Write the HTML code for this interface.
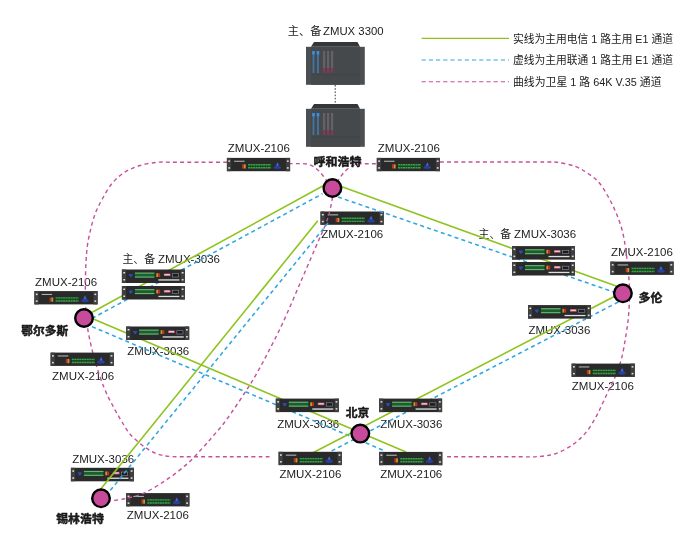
<!DOCTYPE html>
<html lang="zh"><head><meta charset="utf-8"><title>ZMUX</title>
<style>
html,body{margin:0;padding:0;background:#fff;}
body{width:700px;height:539px;overflow:hidden;}
svg{display:block;will-change:transform;}
text{font-family:"Liberation Sans","Noto Sans CJK SC",sans-serif;fill:#1c1c1c;}
</style></head><body>
<svg width="700" height="539" viewBox="0 0 700 539">
<defs><filter id="sb" x="-5%" y="-20%" width="110%" height="140%"><feGaussianBlur stdDeviation="0.35"/></filter></defs>
<rect width="700" height="539" fill="#fff"/>
<g id="labels">
<text xml:space="preserve"><tspan x="287.8" y="35.3" font-size="11.2">主、备</tspan><tspan x="323.0" y="35.1" font-size="11.8" textLength="60.6" lengthAdjust="spacingAndGlyphs">ZMUX 3300</tspan></text>
<text x="227.8" y="152.4" font-size="11.8" textLength="62" lengthAdjust="spacingAndGlyphs" xml:space="preserve">ZMUX-2106</text>
<text x="377.8" y="152.4" font-size="11.8" textLength="62" lengthAdjust="spacingAndGlyphs" xml:space="preserve">ZMUX-2106</text>
<text x="321.2" y="238" font-size="11.8" textLength="62" lengthAdjust="spacingAndGlyphs" xml:space="preserve">ZMUX-2106</text>
<text x="35.1" y="285.7" font-size="11.8" textLength="62" lengthAdjust="spacingAndGlyphs" xml:space="preserve">ZMUX-2106</text>
<text x="52.1" y="379.5" font-size="11.8" textLength="62" lengthAdjust="spacingAndGlyphs" xml:space="preserve">ZMUX-2106</text>
<text x="610.9" y="256.4" font-size="11.8" textLength="62" lengthAdjust="spacingAndGlyphs" xml:space="preserve">ZMUX-2106</text>
<text x="571.8" y="389.6" font-size="11.8" textLength="62" lengthAdjust="spacingAndGlyphs" xml:space="preserve">ZMUX-2106</text>
<text x="279.4" y="477.8" font-size="11.8" textLength="62" lengthAdjust="spacingAndGlyphs" xml:space="preserve">ZMUX-2106</text>
<text x="380.2" y="477.8" font-size="11.8" textLength="62" lengthAdjust="spacingAndGlyphs" xml:space="preserve">ZMUX-2106</text>
<text x="126.8" y="519" font-size="11.8" textLength="62" lengthAdjust="spacingAndGlyphs" xml:space="preserve">ZMUX-2106</text>
<text xml:space="preserve"><tspan x="122.4" y="263.1" font-size="10.9">主、备</tspan><tspan x="158.0" y="263.4" font-size="11.8" textLength="62" lengthAdjust="spacingAndGlyphs">ZMUX-3036</tspan></text>
<text xml:space="preserve"><tspan x="478.5" y="238.0" font-size="10.9">主、备</tspan><tspan x="514.1" y="238.3" font-size="11.8" textLength="62" lengthAdjust="spacingAndGlyphs">ZMUX-3036</tspan></text>
<text x="127.2" y="355" font-size="11.8" textLength="62" lengthAdjust="spacingAndGlyphs" xml:space="preserve">ZMUX-3036</text>
<text x="528.4" y="334.3" font-size="11.8" textLength="62" lengthAdjust="spacingAndGlyphs" xml:space="preserve">ZMUX-3036</text>
<text x="277.2" y="427.9" font-size="11.8" textLength="62" lengthAdjust="spacingAndGlyphs" xml:space="preserve">ZMUX-3036</text>
<text x="380.3" y="427.9" font-size="11.8" textLength="62" lengthAdjust="spacingAndGlyphs" xml:space="preserve">ZMUX-3036</text>
<text x="72.2" y="462.6" font-size="11.8" textLength="62" lengthAdjust="spacingAndGlyphs" xml:space="preserve">ZMUX-3036</text>
<text x="513" y="42.6" font-size="10.8" textLength="160" lengthAdjust="spacingAndGlyphs" xml:space="preserve">实线为主用电信 1 路主用 E1 通道</text>
<text x="513" y="64.3" font-size="10.8" textLength="160" lengthAdjust="spacingAndGlyphs" xml:space="preserve">虚线为主用联通 1 路主用 E1 通道</text>
<text x="513" y="86" font-size="10.8" textLength="148.5" lengthAdjust="spacingAndGlyphs" xml:space="preserve">曲线为卫星 1 路 64K V.35 通道</text>
</g>
<g id="devices-low">
<g transform="translate(320.5,211.5)"><rect x="0" y="0" width="63.2" height="13.3" fill="#2a2a2a"/><rect x="0" y="0" width="4.2" height="13.3" fill="#3f3f3f"/><rect x="59.0" y="0" width="4.2" height="13.3" fill="#3f3f3f"/><g filter="url(#sb)"><rect x="1.4" y="2.5" width="1.8" height="1.5" fill="#e0e0e0"/><rect x="1.4" y="9.3" width="1.8" height="1.5" fill="#e0e0e0"/><rect x="60.0" y="2.5" width="1.8" height="1.5" fill="#e0e0e0"/><rect x="60.0" y="9.3" width="1.8" height="1.5" fill="#e0e0e0"/><rect x="7.2" y="2.8" width="10.5" height="1.1" fill="#b0b0b0"/><rect x="15.2" y="6.4" width="1.8" height="4.2" fill="#cf2a20"/><rect x="17" y="6.4" width="1.8" height="4.2" fill="#b9a02a"/><rect x="21.2" y="6" width="23" height="4.6" fill="#1b4723"/><path d="M21.2 6.8 H44.2 M21.2 9.9 H44.2" stroke="#3f9f4e" stroke-width="1.4" stroke-dasharray="2 0.5" fill="none"/><path d="M46.6 10.2 Q46.6 8.6 48.6 8 L50.6 4 L52.4 8 Q54.4 8.6 54.4 10.2 Q50.5 12 46.6 10.2 Z" fill="#283f9e"/><path d="M49.3 7.6 L50.6 4.6 L51.8 7.6 Z" fill="#4a6fd0"/></g></g>
<g transform="translate(70.9,467.8)"><rect x="0" y="0" width="63" height="13.5" fill="#2a2a2a"/><rect x="0" y="0" width="4.2" height="13.5" fill="#3f3f3f"/><rect x="58.8" y="0" width="4.2" height="13.5" fill="#3f3f3f"/><g filter="url(#sb)"><rect x="1.4" y="2.5" width="1.8" height="1.5" fill="#e0e0e0"/><rect x="1.4" y="9.5" width="1.8" height="1.5" fill="#e0e0e0"/><rect x="59.8" y="2.5" width="1.8" height="1.5" fill="#e0e0e0"/><rect x="59.8" y="9.5" width="1.8" height="1.5" fill="#e0e0e0"/><path d="M6.8 4.4 L11 4.4 L10.2 6.6 L8.9 7.9 L7.6 6.6 Z" fill="#2a4cb6"/><rect x="13" y="3.1" width="19.5" height="5" fill="#1f5f2e"/><rect x="13" y="3.1" width="19.5" height="1.1" fill="#68b476"/><rect x="13" y="7" width="19.5" height="1.1" fill="#68b476"/><rect x="34.4" y="3.7" width="1.9" height="3.8" fill="#b9a02a"/><rect x="36.3" y="3.7" width="1.9" height="3.8" fill="#cf2a20"/><rect x="42" y="4.1" width="6.5" height="2.4" fill="#d9668c"/><rect x="42.8" y="4.7" width="5" height="1" fill="#f7dbe4"/><rect x="50.6" y="4.2" width="6.2" height="3.3" fill="#151a2c" stroke="#8f8f8f" stroke-width="0.6"/><rect x="36.5" y="9.8" width="21" height="1.3" fill="#e0e0e0"/></g></g>
<g transform="translate(126.2,493.1)"><rect x="0" y="0" width="63.2" height="13.3" fill="#2a2a2a"/><rect x="0" y="0" width="4.2" height="13.3" fill="#3f3f3f"/><rect x="59.0" y="0" width="4.2" height="13.3" fill="#3f3f3f"/><g filter="url(#sb)"><rect x="1.4" y="2.5" width="1.8" height="1.5" fill="#e0e0e0"/><rect x="1.4" y="9.3" width="1.8" height="1.5" fill="#e0e0e0"/><rect x="60.0" y="2.5" width="1.8" height="1.5" fill="#e0e0e0"/><rect x="60.0" y="9.3" width="1.8" height="1.5" fill="#e0e0e0"/><rect x="7.2" y="2.8" width="10.5" height="1.1" fill="#b0b0b0"/><rect x="15.2" y="6.4" width="1.8" height="4.2" fill="#cf2a20"/><rect x="17" y="6.4" width="1.8" height="4.2" fill="#b9a02a"/><rect x="21.2" y="6" width="23" height="4.6" fill="#1b4723"/><path d="M21.2 6.8 H44.2 M21.2 9.9 H44.2" stroke="#3f9f4e" stroke-width="1.4" stroke-dasharray="2 0.5" fill="none"/><path d="M46.6 10.2 Q46.6 8.6 48.6 8 L50.6 4 L52.4 8 Q54.4 8.6 54.4 10.2 Q50.5 12 46.6 10.2 Z" fill="#283f9e"/><path d="M49.3 7.6 L50.6 4.6 L51.8 7.6 Z" fill="#4a6fd0"/></g></g>
</g>
<g id="links">
<path d="M227.0 162.2 C222.5 162.2 209.5 162.2 200.0 162.2 C190.5 162.2 177.2 162.2 170.0 162.2 C162.8 162.2 162.0 161.8 157.0 162.3 C152.0 162.9 145.4 163.8 140.0 165.5 C134.6 167.2 129.2 169.3 124.5 172.3 C119.8 175.3 115.7 179.1 112.0 183.5 C108.3 187.9 105.0 194.1 102.3 199.0 C99.5 203.9 97.4 208.2 95.5 213.0 C93.6 217.8 92.3 222.7 91.0 228.0 C89.7 233.3 88.3 239.3 87.5 245.0 C86.7 250.7 86.3 255.8 86.0 262.0 C85.7 268.2 85.5 275.7 85.4 282.0 C85.3 288.3 85.2 294.0 85.4 300.0 C85.6 306.0 86.0 312.3 86.5 318.0 C87.0 323.7 87.2 326.8 88.6 334.0 C90.0 341.2 92.4 352.0 95.0 361.0 C97.6 370.0 101.1 380.3 104.2 388.0 C107.3 395.7 110.5 401.3 113.5 407.0 C116.5 412.7 119.1 417.3 122.0 422.0 C124.9 426.7 127.2 431.0 131.0 435.2 C134.8 439.4 140.5 444.1 145.0 447.3 C149.5 450.5 153.7 452.7 158.0 454.2 C162.3 455.7 165.7 456.1 171.0 456.5 C176.3 456.9 180.2 456.7 190.0 456.7 C199.8 456.7 216.8 456.7 230.0 456.7 C243.2 456.7 262.9 456.7 269.5 456.7" fill="none" stroke="#c6509a" stroke-width="1.4" stroke-dasharray="3.9 3.25"/>
<path d="M440.0 162.0 C450.0 162.0 482.5 162.0 500.0 162.0 C517.5 162.0 535.5 161.9 545.0 162.0 C554.5 162.1 552.0 161.6 557.0 162.3 C562.0 163.0 569.8 164.4 575.0 166.3 C580.2 168.2 583.8 170.6 588.0 173.5 C592.2 176.4 595.9 178.6 600.0 183.8 C604.1 189.1 608.8 197.3 612.5 205.0 C616.2 212.7 619.6 220.7 622.1 230.0 C624.6 239.3 626.0 251.8 627.2 261.0 C628.4 270.2 628.9 279.0 629.3 285.0 C629.7 291.0 629.6 292.0 629.5 297.0 C629.4 302.0 629.1 309.0 628.6 315.0 C628.1 321.0 627.4 325.8 626.3 332.9 C625.2 340.0 623.6 350.3 621.8 357.5 C620.0 364.7 617.6 370.7 615.5 376.0 C613.4 381.3 611.2 384.9 609.0 389.5 C606.8 394.1 604.8 398.8 602.5 403.5 C600.2 408.2 598.3 413.0 595.4 418.0 C592.5 423.0 589.1 428.8 585.1 433.4 C581.1 438.0 576.5 442.2 571.4 445.6 C566.3 449.0 560.0 452.2 554.3 454.0 C548.6 455.8 542.8 456.1 537.1 456.6 C531.4 457.1 526.2 456.8 520.0 456.8 C513.8 456.8 506.7 456.7 500.0 456.7 C493.3 456.7 489.2 456.7 480.0 456.7 C470.8 456.7 450.5 456.7 444.6 456.7" fill="none" stroke="#c6509a" stroke-width="1.4" stroke-dasharray="3.9 3.25"/>
<path d="M332.6 197.0 C332.1 199.7 330.6 208.1 329.3 212.9 C328.0 217.7 326.8 221.5 325.0 226.0 C323.2 230.5 322.7 231.0 318.8 240.0 C314.9 249.0 307.5 266.2 301.5 280.0 C295.5 293.8 288.6 310.4 283.0 322.5 C277.4 334.6 272.4 343.9 268.0 352.5 C263.6 361.1 260.3 367.1 256.5 373.8 C252.7 380.5 250.0 384.8 245.0 392.5 C240.0 400.2 231.5 412.9 226.3 420.0 C221.1 427.1 217.9 430.4 214.0 435.0 C210.1 439.6 207.5 442.7 203.0 447.5 C198.5 452.3 193.1 458.6 187.0 464.0 C180.9 469.4 173.6 475.0 166.5 479.8 C159.4 484.6 151.1 489.7 144.5 492.8 C137.9 495.9 132.7 496.8 127.0 498.2 C121.3 499.6 113.3 500.5 110.6 501.0" fill="none" stroke="#c6509a" stroke-width="1.4" stroke-dasharray="3.9 3.25"/>
<path d="M332.4 188 L325 178.5 Q315 163.6 303 163.6 L290 163.6" fill="none" stroke="#c6509a" stroke-width="1.4" stroke-dasharray="3.9 3.25"/>
<path d="M332.4 188 L339.6 178.3 Q349 163.7 361 163.7 L377 163.7" fill="none" stroke="#c6509a" stroke-width="1.4" stroke-dasharray="3.9 3.25"/>
<line x1="92" y1="318.4" x2="322.5" y2="193.8" stroke="#2ea7e0" stroke-width="1.55" stroke-dasharray="4 3.25"/>
<line x1="338" y1="197" x2="616" y2="292.8" stroke="#2ea7e0" stroke-width="1.55" stroke-dasharray="4 3.25"/>
<line x1="328" y1="223" x2="109" y2="492" stroke="#2ea7e0" stroke-width="1.55" stroke-dasharray="4 3.25"/>
<line x1="92" y1="326.6" x2="385" y2="451" stroke="#2ea7e0" stroke-width="1.55" stroke-dasharray="4 3.25"/>
<line x1="618.3" y1="302" x2="330" y2="451.8" stroke="#2ea7e0" stroke-width="1.55" stroke-dasharray="4 3.25"/>
<line x1="84" y1="316.8" x2="330" y2="182" stroke="#8fc31f" stroke-width="1.6"/>
<line x1="333" y1="183.6" x2="623" y2="288.6" stroke="#8fc31f" stroke-width="1.6"/>
<line x1="317.8" y1="220.8" x2="94.3" y2="497" stroke="#8fc31f" stroke-width="1.6"/>
<line x1="84" y1="315" x2="406" y2="451.9" stroke="#8fc31f" stroke-width="1.6"/>
<line x1="623" y1="292" x2="312" y2="453.2" stroke="#8fc31f" stroke-width="1.6"/>
</g>
<g id="legend">
<line x1="421.6" y1="38.4" x2="509" y2="38.4" stroke="#8fc31f" stroke-width="1.1"/>
<line x1="421.6" y1="60" x2="509" y2="60" stroke="#2ea7e0" stroke-width="1.1" stroke-dasharray="4.2 3"/>
<line x1="421.6" y1="81.7" x2="509" y2="81.7" stroke="#c6509a" stroke-width="1.1" stroke-dasharray="4.2 3"/>
</g>
<line x1="335.2" y1="85" x2="335.2" y2="104" stroke="#3a3a3a" stroke-width="1" stroke-dasharray="1.6 1.6"/>
<g id="chassis">
<g transform="translate(306,42)"><path d="M5 4.8 L8 0 L51.5 0 L54 4.8 Z" fill="#343638"/><rect x="0" y="4.8" width="58.8" height="38" fill="#4c4f51"/><rect x="5" y="4.8" width="49" height="38" fill="#46494b"/><rect x="6.6" y="9" width="1.8" height="22" fill="#4175a6"/><rect x="11.1" y="9" width="1.8" height="22" fill="#4175a6"/><rect x="6.2" y="9" width="2.6" height="3.4" fill="#3b8ee6"/><rect x="10.7" y="9" width="2.6" height="3.4" fill="#3b8ee6"/><rect x="17" y="9" width="2.2" height="17" fill="#666264"/><rect x="17" y="26" width="2.2" height="5" fill="#853850"/><rect x="21" y="9" width="2.2" height="17" fill="#666264"/><rect x="21" y="26" width="2.2" height="5" fill="#853850"/><rect x="25" y="9" width="2.2" height="17" fill="#666264"/><rect x="25" y="26" width="2.2" height="5" fill="#853850"/><rect x="5" y="32.5" width="49" height="0.8" fill="#3f4244"/></g>
<g transform="translate(306,104)"><path d="M5 4.8 L8 0 L51.5 0 L54 4.8 Z" fill="#343638"/><rect x="0" y="4.8" width="58.8" height="38" fill="#4c4f51"/><rect x="5" y="4.8" width="49" height="38" fill="#46494b"/><rect x="6.6" y="9" width="1.8" height="22" fill="#4175a6"/><rect x="11.1" y="9" width="1.8" height="22" fill="#4175a6"/><rect x="6.2" y="9" width="2.6" height="3.4" fill="#3b8ee6"/><rect x="10.7" y="9" width="2.6" height="3.4" fill="#3b8ee6"/><rect x="17" y="9" width="2.2" height="17" fill="#666264"/><rect x="17" y="26" width="2.2" height="5" fill="#853850"/><rect x="21" y="9" width="2.2" height="17" fill="#666264"/><rect x="21" y="26" width="2.2" height="5" fill="#853850"/><rect x="25" y="9" width="2.2" height="17" fill="#666264"/><rect x="25" y="26" width="2.2" height="5" fill="#853850"/><rect x="5" y="32.5" width="49" height="0.8" fill="#3f4244"/></g>
</g>
<g id="devices">
<g transform="translate(226.9,157.9)"><rect x="0" y="0" width="63.2" height="13.3" fill="#2a2a2a"/><rect x="0" y="0" width="4.2" height="13.3" fill="#3f3f3f"/><rect x="59.0" y="0" width="4.2" height="13.3" fill="#3f3f3f"/><g filter="url(#sb)"><rect x="1.4" y="2.5" width="1.8" height="1.5" fill="#e0e0e0"/><rect x="1.4" y="9.3" width="1.8" height="1.5" fill="#e0e0e0"/><rect x="60.0" y="2.5" width="1.8" height="1.5" fill="#e0e0e0"/><rect x="60.0" y="9.3" width="1.8" height="1.5" fill="#e0e0e0"/><rect x="7.2" y="2.8" width="10.5" height="1.1" fill="#b0b0b0"/><rect x="15.2" y="6.4" width="1.8" height="4.2" fill="#cf2a20"/><rect x="17" y="6.4" width="1.8" height="4.2" fill="#b9a02a"/><rect x="21.2" y="6" width="23" height="4.6" fill="#1b4723"/><path d="M21.2 6.8 H44.2 M21.2 9.9 H44.2" stroke="#3f9f4e" stroke-width="1.4" stroke-dasharray="2 0.5" fill="none"/><path d="M46.6 10.2 Q46.6 8.6 48.6 8 L50.6 4 L52.4 8 Q54.4 8.6 54.4 10.2 Q50.5 12 46.6 10.2 Z" fill="#283f9e"/><path d="M49.3 7.6 L50.6 4.6 L51.8 7.6 Z" fill="#4a6fd0"/></g></g>
<g transform="translate(376.8,157.9)"><rect x="0" y="0" width="63.2" height="13.3" fill="#2a2a2a"/><rect x="0" y="0" width="4.2" height="13.3" fill="#3f3f3f"/><rect x="59.0" y="0" width="4.2" height="13.3" fill="#3f3f3f"/><g filter="url(#sb)"><rect x="1.4" y="2.5" width="1.8" height="1.5" fill="#e0e0e0"/><rect x="1.4" y="9.3" width="1.8" height="1.5" fill="#e0e0e0"/><rect x="60.0" y="2.5" width="1.8" height="1.5" fill="#e0e0e0"/><rect x="60.0" y="9.3" width="1.8" height="1.5" fill="#e0e0e0"/><rect x="7.2" y="2.8" width="10.5" height="1.1" fill="#b0b0b0"/><rect x="15.2" y="6.4" width="1.8" height="4.2" fill="#cf2a20"/><rect x="17" y="6.4" width="1.8" height="4.2" fill="#b9a02a"/><rect x="21.2" y="6" width="23" height="4.6" fill="#1b4723"/><path d="M21.2 6.8 H44.2 M21.2 9.9 H44.2" stroke="#3f9f4e" stroke-width="1.4" stroke-dasharray="2 0.5" fill="none"/><path d="M46.6 10.2 Q46.6 8.6 48.6 8 L50.6 4 L52.4 8 Q54.4 8.6 54.4 10.2 Q50.5 12 46.6 10.2 Z" fill="#283f9e"/><path d="M49.3 7.6 L50.6 4.6 L51.8 7.6 Z" fill="#4a6fd0"/></g></g>
<g transform="translate(34.4,291.1)"><rect x="0" y="0" width="63.2" height="13.3" fill="#2a2a2a"/><rect x="0" y="0" width="4.2" height="13.3" fill="#3f3f3f"/><rect x="59.0" y="0" width="4.2" height="13.3" fill="#3f3f3f"/><g filter="url(#sb)"><rect x="1.4" y="2.5" width="1.8" height="1.5" fill="#e0e0e0"/><rect x="1.4" y="9.3" width="1.8" height="1.5" fill="#e0e0e0"/><rect x="60.0" y="2.5" width="1.8" height="1.5" fill="#e0e0e0"/><rect x="60.0" y="9.3" width="1.8" height="1.5" fill="#e0e0e0"/><rect x="7.2" y="2.8" width="10.5" height="1.1" fill="#b0b0b0"/><rect x="15.2" y="6.4" width="1.8" height="4.2" fill="#cf2a20"/><rect x="17" y="6.4" width="1.8" height="4.2" fill="#b9a02a"/><rect x="21.2" y="6" width="23" height="4.6" fill="#1b4723"/><path d="M21.2 6.8 H44.2 M21.2 9.9 H44.2" stroke="#3f9f4e" stroke-width="1.4" stroke-dasharray="2 0.5" fill="none"/><path d="M46.6 10.2 Q46.6 8.6 48.6 8 L50.6 4 L52.4 8 Q54.4 8.6 54.4 10.2 Q50.5 12 46.6 10.2 Z" fill="#283f9e"/><path d="M49.3 7.6 L50.6 4.6 L51.8 7.6 Z" fill="#4a6fd0"/></g></g>
<g transform="translate(50.6,352.6)"><rect x="0" y="0" width="63.2" height="13.3" fill="#2a2a2a"/><rect x="0" y="0" width="4.2" height="13.3" fill="#3f3f3f"/><rect x="59.0" y="0" width="4.2" height="13.3" fill="#3f3f3f"/><g filter="url(#sb)"><rect x="1.4" y="2.5" width="1.8" height="1.5" fill="#e0e0e0"/><rect x="1.4" y="9.3" width="1.8" height="1.5" fill="#e0e0e0"/><rect x="60.0" y="2.5" width="1.8" height="1.5" fill="#e0e0e0"/><rect x="60.0" y="9.3" width="1.8" height="1.5" fill="#e0e0e0"/><rect x="7.2" y="2.8" width="10.5" height="1.1" fill="#b0b0b0"/><rect x="15.2" y="6.4" width="1.8" height="4.2" fill="#cf2a20"/><rect x="17" y="6.4" width="1.8" height="4.2" fill="#b9a02a"/><rect x="21.2" y="6" width="23" height="4.6" fill="#1b4723"/><path d="M21.2 6.8 H44.2 M21.2 9.9 H44.2" stroke="#3f9f4e" stroke-width="1.4" stroke-dasharray="2 0.5" fill="none"/><path d="M46.6 10.2 Q46.6 8.6 48.6 8 L50.6 4 L52.4 8 Q54.4 8.6 54.4 10.2 Q50.5 12 46.6 10.2 Z" fill="#283f9e"/><path d="M49.3 7.6 L50.6 4.6 L51.8 7.6 Z" fill="#4a6fd0"/></g></g>
<g transform="translate(610.4,261.6)"><rect x="0" y="0" width="63.2" height="13.3" fill="#2a2a2a"/><rect x="0" y="0" width="4.2" height="13.3" fill="#3f3f3f"/><rect x="59.0" y="0" width="4.2" height="13.3" fill="#3f3f3f"/><g filter="url(#sb)"><rect x="1.4" y="2.5" width="1.8" height="1.5" fill="#e0e0e0"/><rect x="1.4" y="9.3" width="1.8" height="1.5" fill="#e0e0e0"/><rect x="60.0" y="2.5" width="1.8" height="1.5" fill="#e0e0e0"/><rect x="60.0" y="9.3" width="1.8" height="1.5" fill="#e0e0e0"/><rect x="7.2" y="2.8" width="10.5" height="1.1" fill="#b0b0b0"/><rect x="15.2" y="6.4" width="1.8" height="4.2" fill="#cf2a20"/><rect x="17" y="6.4" width="1.8" height="4.2" fill="#b9a02a"/><rect x="21.2" y="6" width="23" height="4.6" fill="#1b4723"/><path d="M21.2 6.8 H44.2 M21.2 9.9 H44.2" stroke="#3f9f4e" stroke-width="1.4" stroke-dasharray="2 0.5" fill="none"/><path d="M46.6 10.2 Q46.6 8.6 48.6 8 L50.6 4 L52.4 8 Q54.4 8.6 54.4 10.2 Q50.5 12 46.6 10.2 Z" fill="#283f9e"/><path d="M49.3 7.6 L50.6 4.6 L51.8 7.6 Z" fill="#4a6fd0"/></g></g>
<g transform="translate(571.6,363.6)"><rect x="0" y="0" width="63.2" height="13.3" fill="#2a2a2a"/><rect x="0" y="0" width="4.2" height="13.3" fill="#3f3f3f"/><rect x="59.0" y="0" width="4.2" height="13.3" fill="#3f3f3f"/><g filter="url(#sb)"><rect x="1.4" y="2.5" width="1.8" height="1.5" fill="#e0e0e0"/><rect x="1.4" y="9.3" width="1.8" height="1.5" fill="#e0e0e0"/><rect x="60.0" y="2.5" width="1.8" height="1.5" fill="#e0e0e0"/><rect x="60.0" y="9.3" width="1.8" height="1.5" fill="#e0e0e0"/><rect x="7.2" y="2.8" width="10.5" height="1.1" fill="#b0b0b0"/><rect x="15.2" y="6.4" width="1.8" height="4.2" fill="#cf2a20"/><rect x="17" y="6.4" width="1.8" height="4.2" fill="#b9a02a"/><rect x="21.2" y="6" width="23" height="4.6" fill="#1b4723"/><path d="M21.2 6.8 H44.2 M21.2 9.9 H44.2" stroke="#3f9f4e" stroke-width="1.4" stroke-dasharray="2 0.5" fill="none"/><path d="M46.6 10.2 Q46.6 8.6 48.6 8 L50.6 4 L52.4 8 Q54.4 8.6 54.4 10.2 Q50.5 12 46.6 10.2 Z" fill="#283f9e"/><path d="M49.3 7.6 L50.6 4.6 L51.8 7.6 Z" fill="#4a6fd0"/></g></g>
<g transform="translate(278.6,451.8)"><rect x="0" y="0" width="63.2" height="13.3" fill="#2a2a2a"/><rect x="0" y="0" width="4.2" height="13.3" fill="#3f3f3f"/><rect x="59.0" y="0" width="4.2" height="13.3" fill="#3f3f3f"/><g filter="url(#sb)"><rect x="1.4" y="2.5" width="1.8" height="1.5" fill="#e0e0e0"/><rect x="1.4" y="9.3" width="1.8" height="1.5" fill="#e0e0e0"/><rect x="60.0" y="2.5" width="1.8" height="1.5" fill="#e0e0e0"/><rect x="60.0" y="9.3" width="1.8" height="1.5" fill="#e0e0e0"/><rect x="7.2" y="2.8" width="10.5" height="1.1" fill="#b0b0b0"/><rect x="15.2" y="6.4" width="1.8" height="4.2" fill="#cf2a20"/><rect x="17" y="6.4" width="1.8" height="4.2" fill="#b9a02a"/><rect x="21.2" y="6" width="23" height="4.6" fill="#1b4723"/><path d="M21.2 6.8 H44.2 M21.2 9.9 H44.2" stroke="#3f9f4e" stroke-width="1.4" stroke-dasharray="2 0.5" fill="none"/><path d="M46.6 10.2 Q46.6 8.6 48.6 8 L50.6 4 L52.4 8 Q54.4 8.6 54.4 10.2 Q50.5 12 46.6 10.2 Z" fill="#283f9e"/><path d="M49.3 7.6 L50.6 4.6 L51.8 7.6 Z" fill="#4a6fd0"/></g></g>
<g transform="translate(379.1,451.9)"><rect x="0" y="0" width="63.2" height="13.3" fill="#2a2a2a"/><rect x="0" y="0" width="4.2" height="13.3" fill="#3f3f3f"/><rect x="59.0" y="0" width="4.2" height="13.3" fill="#3f3f3f"/><g filter="url(#sb)"><rect x="1.4" y="2.5" width="1.8" height="1.5" fill="#e0e0e0"/><rect x="1.4" y="9.3" width="1.8" height="1.5" fill="#e0e0e0"/><rect x="60.0" y="2.5" width="1.8" height="1.5" fill="#e0e0e0"/><rect x="60.0" y="9.3" width="1.8" height="1.5" fill="#e0e0e0"/><rect x="7.2" y="2.8" width="10.5" height="1.1" fill="#b0b0b0"/><rect x="15.2" y="6.4" width="1.8" height="4.2" fill="#cf2a20"/><rect x="17" y="6.4" width="1.8" height="4.2" fill="#b9a02a"/><rect x="21.2" y="6" width="23" height="4.6" fill="#1b4723"/><path d="M21.2 6.8 H44.2 M21.2 9.9 H44.2" stroke="#3f9f4e" stroke-width="1.4" stroke-dasharray="2 0.5" fill="none"/><path d="M46.6 10.2 Q46.6 8.6 48.6 8 L50.6 4 L52.4 8 Q54.4 8.6 54.4 10.2 Q50.5 12 46.6 10.2 Z" fill="#283f9e"/><path d="M49.3 7.6 L50.6 4.6 L51.8 7.6 Z" fill="#4a6fd0"/></g></g>
<g transform="translate(121.9,269.5)"><rect x="0" y="0" width="63" height="13.5" fill="#2a2a2a"/><rect x="0" y="0" width="4.2" height="13.5" fill="#3f3f3f"/><rect x="58.8" y="0" width="4.2" height="13.5" fill="#3f3f3f"/><g filter="url(#sb)"><rect x="1.4" y="2.5" width="1.8" height="1.5" fill="#e0e0e0"/><rect x="1.4" y="9.5" width="1.8" height="1.5" fill="#e0e0e0"/><rect x="59.8" y="2.5" width="1.8" height="1.5" fill="#e0e0e0"/><rect x="59.8" y="9.5" width="1.8" height="1.5" fill="#e0e0e0"/><path d="M6.8 4.4 L11 4.4 L10.2 6.6 L8.9 7.9 L7.6 6.6 Z" fill="#2a4cb6"/><rect x="13" y="3.1" width="19.5" height="5" fill="#1f5f2e"/><rect x="13" y="3.1" width="19.5" height="1.1" fill="#68b476"/><rect x="13" y="7" width="19.5" height="1.1" fill="#68b476"/><rect x="34.4" y="3.7" width="1.9" height="3.8" fill="#b9a02a"/><rect x="36.3" y="3.7" width="1.9" height="3.8" fill="#cf2a20"/><rect x="42" y="4.1" width="6.5" height="2.4" fill="#d9668c"/><rect x="42.8" y="4.7" width="5" height="1" fill="#f7dbe4"/><rect x="50.6" y="4.2" width="6.2" height="3.3" fill="#151a2c" stroke="#8f8f8f" stroke-width="0.6"/><rect x="36.5" y="9.8" width="21" height="1.3" fill="#e0e0e0"/></g></g>
<g transform="translate(121.9,286)"><rect x="0" y="0" width="63" height="13.5" fill="#2a2a2a"/><rect x="0" y="0" width="4.2" height="13.5" fill="#3f3f3f"/><rect x="58.8" y="0" width="4.2" height="13.5" fill="#3f3f3f"/><g filter="url(#sb)"><rect x="1.4" y="2.5" width="1.8" height="1.5" fill="#e0e0e0"/><rect x="1.4" y="9.5" width="1.8" height="1.5" fill="#e0e0e0"/><rect x="59.8" y="2.5" width="1.8" height="1.5" fill="#e0e0e0"/><rect x="59.8" y="9.5" width="1.8" height="1.5" fill="#e0e0e0"/><path d="M6.8 4.4 L11 4.4 L10.2 6.6 L8.9 7.9 L7.6 6.6 Z" fill="#2a4cb6"/><rect x="13" y="3.1" width="19.5" height="5" fill="#1f5f2e"/><rect x="13" y="3.1" width="19.5" height="1.1" fill="#68b476"/><rect x="13" y="7" width="19.5" height="1.1" fill="#68b476"/><rect x="34.4" y="3.7" width="1.9" height="3.8" fill="#b9a02a"/><rect x="36.3" y="3.7" width="1.9" height="3.8" fill="#cf2a20"/><rect x="42" y="4.1" width="6.5" height="2.4" fill="#d9668c"/><rect x="42.8" y="4.7" width="5" height="1" fill="#f7dbe4"/><rect x="50.6" y="4.2" width="6.2" height="3.3" fill="#151a2c" stroke="#8f8f8f" stroke-width="0.6"/><rect x="36.5" y="9.8" width="21" height="1.3" fill="#e0e0e0"/></g></g>
<g transform="translate(126.2,326.5)"><rect x="0" y="0" width="63" height="13.5" fill="#2a2a2a"/><rect x="0" y="0" width="4.2" height="13.5" fill="#3f3f3f"/><rect x="58.8" y="0" width="4.2" height="13.5" fill="#3f3f3f"/><g filter="url(#sb)"><rect x="1.4" y="2.5" width="1.8" height="1.5" fill="#e0e0e0"/><rect x="1.4" y="9.5" width="1.8" height="1.5" fill="#e0e0e0"/><rect x="59.8" y="2.5" width="1.8" height="1.5" fill="#e0e0e0"/><rect x="59.8" y="9.5" width="1.8" height="1.5" fill="#e0e0e0"/><path d="M6.8 4.4 L11 4.4 L10.2 6.6 L8.9 7.9 L7.6 6.6 Z" fill="#2a4cb6"/><rect x="13" y="3.1" width="19.5" height="5" fill="#1f5f2e"/><rect x="13" y="3.1" width="19.5" height="1.1" fill="#68b476"/><rect x="13" y="7" width="19.5" height="1.1" fill="#68b476"/><rect x="34.4" y="3.7" width="1.9" height="3.8" fill="#b9a02a"/><rect x="36.3" y="3.7" width="1.9" height="3.8" fill="#cf2a20"/><rect x="42" y="4.1" width="6.5" height="2.4" fill="#d9668c"/><rect x="42.8" y="4.7" width="5" height="1" fill="#f7dbe4"/><rect x="50.6" y="4.2" width="6.2" height="3.3" fill="#151a2c" stroke="#8f8f8f" stroke-width="0.6"/><rect x="36.5" y="9.8" width="21" height="1.3" fill="#e0e0e0"/></g></g>
<g transform="translate(512,246.1)"><rect x="0" y="0" width="63" height="13.5" fill="#2a2a2a"/><rect x="0" y="0" width="4.2" height="13.5" fill="#3f3f3f"/><rect x="58.8" y="0" width="4.2" height="13.5" fill="#3f3f3f"/><g filter="url(#sb)"><rect x="1.4" y="2.5" width="1.8" height="1.5" fill="#e0e0e0"/><rect x="1.4" y="9.5" width="1.8" height="1.5" fill="#e0e0e0"/><rect x="59.8" y="2.5" width="1.8" height="1.5" fill="#e0e0e0"/><rect x="59.8" y="9.5" width="1.8" height="1.5" fill="#e0e0e0"/><path d="M6.8 4.4 L11 4.4 L10.2 6.6 L8.9 7.9 L7.6 6.6 Z" fill="#2a4cb6"/><rect x="13" y="3.1" width="19.5" height="5" fill="#1f5f2e"/><rect x="13" y="3.1" width="19.5" height="1.1" fill="#68b476"/><rect x="13" y="7" width="19.5" height="1.1" fill="#68b476"/><rect x="34.4" y="3.7" width="1.9" height="3.8" fill="#b9a02a"/><rect x="36.3" y="3.7" width="1.9" height="3.8" fill="#cf2a20"/><rect x="42" y="4.1" width="6.5" height="2.4" fill="#d9668c"/><rect x="42.8" y="4.7" width="5" height="1" fill="#f7dbe4"/><rect x="50.6" y="4.2" width="6.2" height="3.3" fill="#151a2c" stroke="#8f8f8f" stroke-width="0.6"/><rect x="36.5" y="9.8" width="21" height="1.3" fill="#e0e0e0"/></g></g>
<g transform="translate(512,262)"><rect x="0" y="0" width="63" height="13.5" fill="#2a2a2a"/><rect x="0" y="0" width="4.2" height="13.5" fill="#3f3f3f"/><rect x="58.8" y="0" width="4.2" height="13.5" fill="#3f3f3f"/><g filter="url(#sb)"><rect x="1.4" y="2.5" width="1.8" height="1.5" fill="#e0e0e0"/><rect x="1.4" y="9.5" width="1.8" height="1.5" fill="#e0e0e0"/><rect x="59.8" y="2.5" width="1.8" height="1.5" fill="#e0e0e0"/><rect x="59.8" y="9.5" width="1.8" height="1.5" fill="#e0e0e0"/><path d="M6.8 4.4 L11 4.4 L10.2 6.6 L8.9 7.9 L7.6 6.6 Z" fill="#2a4cb6"/><rect x="13" y="3.1" width="19.5" height="5" fill="#1f5f2e"/><rect x="13" y="3.1" width="19.5" height="1.1" fill="#68b476"/><rect x="13" y="7" width="19.5" height="1.1" fill="#68b476"/><rect x="34.4" y="3.7" width="1.9" height="3.8" fill="#b9a02a"/><rect x="36.3" y="3.7" width="1.9" height="3.8" fill="#cf2a20"/><rect x="42" y="4.1" width="6.5" height="2.4" fill="#d9668c"/><rect x="42.8" y="4.7" width="5" height="1" fill="#f7dbe4"/><rect x="50.6" y="4.2" width="6.2" height="3.3" fill="#151a2c" stroke="#8f8f8f" stroke-width="0.6"/><rect x="36.5" y="9.8" width="21" height="1.3" fill="#e0e0e0"/></g></g>
<g transform="translate(528,305.1)"><rect x="0" y="0" width="63" height="13.5" fill="#2a2a2a"/><rect x="0" y="0" width="4.2" height="13.5" fill="#3f3f3f"/><rect x="58.8" y="0" width="4.2" height="13.5" fill="#3f3f3f"/><g filter="url(#sb)"><rect x="1.4" y="2.5" width="1.8" height="1.5" fill="#e0e0e0"/><rect x="1.4" y="9.5" width="1.8" height="1.5" fill="#e0e0e0"/><rect x="59.8" y="2.5" width="1.8" height="1.5" fill="#e0e0e0"/><rect x="59.8" y="9.5" width="1.8" height="1.5" fill="#e0e0e0"/><path d="M6.8 4.4 L11 4.4 L10.2 6.6 L8.9 7.9 L7.6 6.6 Z" fill="#2a4cb6"/><rect x="13" y="3.1" width="19.5" height="5" fill="#1f5f2e"/><rect x="13" y="3.1" width="19.5" height="1.1" fill="#68b476"/><rect x="13" y="7" width="19.5" height="1.1" fill="#68b476"/><rect x="34.4" y="3.7" width="1.9" height="3.8" fill="#b9a02a"/><rect x="36.3" y="3.7" width="1.9" height="3.8" fill="#cf2a20"/><rect x="42" y="4.1" width="6.5" height="2.4" fill="#d9668c"/><rect x="42.8" y="4.7" width="5" height="1" fill="#f7dbe4"/><rect x="50.6" y="4.2" width="6.2" height="3.3" fill="#151a2c" stroke="#8f8f8f" stroke-width="0.6"/><rect x="36.5" y="9.8" width="21" height="1.3" fill="#e0e0e0"/></g></g>
<g transform="translate(275.8,398.6)"><rect x="0" y="0" width="63" height="13.5" fill="#2a2a2a"/><rect x="0" y="0" width="4.2" height="13.5" fill="#3f3f3f"/><rect x="58.8" y="0" width="4.2" height="13.5" fill="#3f3f3f"/><g filter="url(#sb)"><rect x="1.4" y="2.5" width="1.8" height="1.5" fill="#e0e0e0"/><rect x="1.4" y="9.5" width="1.8" height="1.5" fill="#e0e0e0"/><rect x="59.8" y="2.5" width="1.8" height="1.5" fill="#e0e0e0"/><rect x="59.8" y="9.5" width="1.8" height="1.5" fill="#e0e0e0"/><path d="M6.8 4.4 L11 4.4 L10.2 6.6 L8.9 7.9 L7.6 6.6 Z" fill="#2a4cb6"/><rect x="13" y="3.1" width="19.5" height="5" fill="#1f5f2e"/><rect x="13" y="3.1" width="19.5" height="1.1" fill="#68b476"/><rect x="13" y="7" width="19.5" height="1.1" fill="#68b476"/><rect x="34.4" y="3.7" width="1.9" height="3.8" fill="#b9a02a"/><rect x="36.3" y="3.7" width="1.9" height="3.8" fill="#cf2a20"/><rect x="42" y="4.1" width="6.5" height="2.4" fill="#d9668c"/><rect x="42.8" y="4.7" width="5" height="1" fill="#f7dbe4"/><rect x="50.6" y="4.2" width="6.2" height="3.3" fill="#151a2c" stroke="#8f8f8f" stroke-width="0.6"/><rect x="36.5" y="9.8" width="21" height="1.3" fill="#e0e0e0"/></g></g>
<g transform="translate(379.1,398.6)"><rect x="0" y="0" width="63" height="13.5" fill="#2a2a2a"/><rect x="0" y="0" width="4.2" height="13.5" fill="#3f3f3f"/><rect x="58.8" y="0" width="4.2" height="13.5" fill="#3f3f3f"/><g filter="url(#sb)"><rect x="1.4" y="2.5" width="1.8" height="1.5" fill="#e0e0e0"/><rect x="1.4" y="9.5" width="1.8" height="1.5" fill="#e0e0e0"/><rect x="59.8" y="2.5" width="1.8" height="1.5" fill="#e0e0e0"/><rect x="59.8" y="9.5" width="1.8" height="1.5" fill="#e0e0e0"/><path d="M6.8 4.4 L11 4.4 L10.2 6.6 L8.9 7.9 L7.6 6.6 Z" fill="#2a4cb6"/><rect x="13" y="3.1" width="19.5" height="5" fill="#1f5f2e"/><rect x="13" y="3.1" width="19.5" height="1.1" fill="#68b476"/><rect x="13" y="7" width="19.5" height="1.1" fill="#68b476"/><rect x="34.4" y="3.7" width="1.9" height="3.8" fill="#b9a02a"/><rect x="36.3" y="3.7" width="1.9" height="3.8" fill="#cf2a20"/><rect x="42" y="4.1" width="6.5" height="2.4" fill="#d9668c"/><rect x="42.8" y="4.7" width="5" height="1" fill="#f7dbe4"/><rect x="50.6" y="4.2" width="6.2" height="3.3" fill="#151a2c" stroke="#8f8f8f" stroke-width="0.6"/><rect x="36.5" y="9.8" width="21" height="1.3" fill="#e0e0e0"/></g></g>
</g>
<g id="nodes">
<circle cx="332.4" cy="188" r="8.8" fill="#c84a9b" stroke="#000" stroke-width="2.4"/><circle cx="84" cy="318" r="8.8" fill="#c84a9b" stroke="#000" stroke-width="2.4"/><circle cx="622.9" cy="293.3" r="8.8" fill="#c84a9b" stroke="#000" stroke-width="2.4"/><circle cx="360.3" cy="433.6" r="8.8" fill="#c84a9b" stroke="#000" stroke-width="2.4"/><circle cx="101" cy="498.3" r="8.8" fill="#c84a9b" stroke="#000" stroke-width="2.4"/>
</g>
<g id="names">
<text x="313.6" y="166.4" font-size="11.6" font-weight="bold" stroke="#111" stroke-width="0.45" stroke-linejoin="round" textLength="48" lengthAdjust="spacingAndGlyphs" xml:space="preserve">呼和浩特</text>
<text x="21.2" y="335" font-size="11.6" font-weight="bold" stroke="#111" stroke-width="0.45" stroke-linejoin="round" textLength="47" lengthAdjust="spacingAndGlyphs" xml:space="preserve">鄂尔多斯</text>
<text x="638.6" y="301.8" font-size="11.6" font-weight="bold" stroke="#111" stroke-width="0.45" stroke-linejoin="round" textLength="24" lengthAdjust="spacingAndGlyphs" xml:space="preserve">多伦</text>
<text x="345.8" y="416.8" font-size="11.6" font-weight="bold" stroke="#111" stroke-width="0.45" stroke-linejoin="round" textLength="23.6" lengthAdjust="spacingAndGlyphs" xml:space="preserve">北京</text>
<text x="56.2" y="522.8" font-size="11.6" font-weight="bold" stroke="#111" stroke-width="0.45" stroke-linejoin="round" textLength="47.6" lengthAdjust="spacingAndGlyphs" xml:space="preserve">锡林浩特</text>
</g>
</svg>
</body></html>
